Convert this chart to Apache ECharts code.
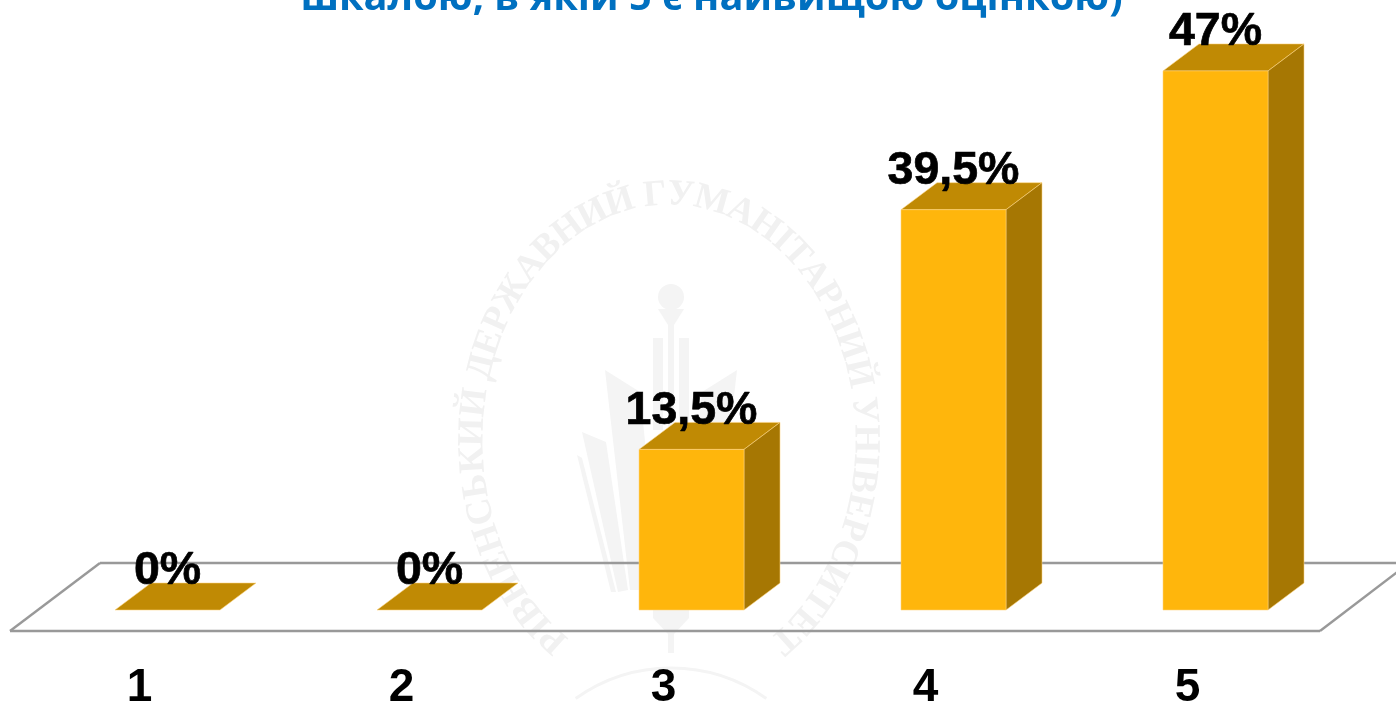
<!DOCTYPE html>
<html>
<head>
<meta charset="utf-8">
<style>html,body{margin:0;padding:0;background:#fff;overflow:hidden}#c{width:1396px;height:705px}</style>
<script src="https://cdn.jsdelivr.net/npm/echarts@6/dist/echarts.min.js"></script>
</head>
<body>
<div id="c"></div>
<script>
// Data
var categories = ['1', '2', '3', '4', '5'];
var barHeights = [0, 0, 14, 34.9, 47];           // drawn heights as seen on the picture
var barLabels = ['0%', '0%', '13,5%', '39,5%', '47%']; // printed labels
var titleText = 'шкалою, в якій 5 є найвищою оцінкою)';
var watermarkText = 'РІВНЕНСЬКИЙ ДЕРЖАВНИЙ ГУМАНІТАРНИЙ УНІВЕРСИТЕТ';

var FACE = '#FFB60C', TOP = '#C08A04', SIDE = '#A67703', EDGE = 'rgba(255,214,130,0.55)';
var WM = '#F1F1F1';
var FONT = '"Liberation Sans", Arial, sans-serif';

function watermark() {
  var els = [];
  var cx = 669, cy = 440, rx = 196, ry = 245;
  var ctx = document.createElement('canvas').getContext('2d');
  var fnt = 'bold 37px "Liberation Serif"';
  ctx.font = fnt;
  var start = 4.14, end = -1.0; // ellipse parameter: lower left, over the top, to lower right
  var pts = [], N = 2000, total = 0;
  for (var i = 0; i <= N; i++) {
    var t = start + (end - start) * i / N;
    var p = [cx + rx * Math.cos(t), cy - ry * Math.sin(t)];
    if (i) { total += Math.hypot(p[0] - pts[i - 1].x, p[1] - pts[i - 1].y); }
    pts.push({ x: p[0], y: p[1], s: total, t: t });
  }
  var widths = watermarkText.split('').map(function (c) { return ctx.measureText(c).width; });
  var sum = widths.reduce(function (a, b) { return a + b; }, 0);
  var k = total / sum, pos = 0, idx = 0;
  watermarkText.split('').forEach(function (c, j) {
    var mid = (pos + widths[j] / 2) * k;
    while (idx < N && pts[idx].s < mid) idx++;
    var a = pts[Math.max(idx - 3, 0)], b = pts[Math.min(idx + 3, N)];
    var rot = -Math.atan2(b.y - a.y, b.x - a.x);
    els.push({
      type: 'text', x: pts[idx].x, y: pts[idx].y, rotation: rot, z: -10, silent: true,
      style: { text: c, fill: WM, font: fnt, align: 'center', verticalAlign: 'middle' }
    });
    pos += widths[j];
  });
  function poly(points) {
    return { type: 'polygon', z: -10, silent: true, shape: { points: points }, style: { fill: '#F4F4F4' } };
  }
  // torch
  els.push({ type: 'circle', z: -10, silent: true, shape: { cx: 671, cy: 297, r: 13 }, style: { fill: '#F4F4F4' } });
  els.push(poly([[658, 309], [684, 309], [674, 325], [674, 370], [668, 370], [668, 325]]));
  // trident
  els.push(poly([[653, 338], [663, 338], [663, 430], [653, 430]]));
  els.push(poly([[679, 338], [689, 338], [689, 430], [679, 430]]));
  els.push(poly([[668, 365], [674, 365], [674, 430], [668, 430]]));
  // book pages
  els.push(poly([[605, 370], [640, 392], [660, 590], [630, 590]]));
  els.push(poly([[582, 432], [606, 442], [628, 590], [618, 592]]));
  els.push(poly([[577, 455], [582, 458], [616, 592], [611, 592]]));
  els.push(poly([[737, 370], [702, 392], [682, 590], [712, 590]]));
  // stem under the fold
  els.push(poly([[653, 600], [663, 600], [663, 608], [679, 608], [679, 600], [689, 600], [689, 618], [674, 634], [674, 653], [668, 653], [668, 634], [653, 618]]));
  // bottom arc
  els.push({
    type: 'arc', z: -10, silent: true,
    shape: { cx: 671, cy: 832, r: 164, startAngle: Math.PI * 1.5 - 0.62, endAngle: Math.PI * 1.5 + 0.62 },
    style: { stroke: '#F4F4F4', lineWidth: 3, fill: null }
  });
  return els;
}

function renderFloor(params, api) {
  var line = function (x1, y1, x2, y2) {
    return {
      type: 'line', shape: { x1: x1, y1: y1, x2: x2, y2: y2 },
      style: { stroke: '#999999', lineWidth: 2.4 }
    };
  };
  var g = params.coordSys;
  var x0 = g.x, x1 = g.x + g.width, yf = g.y + g.height + 21, back = yf - 68;
  return {
    type: 'group',
    children: [
      line(x0, yf, x1, yf),
      line(x0, yf, x0 + 90, back),
      line(x0 + 90, back, 1400, back),
      line(x1, yf, 1400, yf - 61)
    ]
  };
}

function renderBar(params, api) {
  var base = api.coord([api.value(0), 0]);
  var top = api.coord([api.value(0), api.value(1)]);
  var shift = 26.5, half = 52.5, dx = 36, dy = -27;
  var l = base[0] + shift - half, r = base[0] + shift + half, b = base[1], t = top[1];
  var poly = function (points, fill) {
    return { type: 'polygon', shape: { points: points }, style: { fill: fill, stroke: EDGE, lineWidth: 1 } };
  };
  var children = [
    poly([[l, t], [r, t], [r + dx, t + dy], [l + dx, t + dy]], TOP)
  ];
  if (b - t > 0.5) {
    children.push(poly([[r, t], [r + dx, t + dy], [r + dx, b + dy], [r, b]], SIDE));
    children.push(poly([[l, t], [r, t], [r, b], [l, b]], FACE));
  }
  children.push({
    type: 'text', z2: 20, x: base[0] + shift, y: t - 38.5,
    style: {
      text: barLabels[params.dataIndex], fill: '#000', stroke: '#000', lineWidth: 0.7,
      align: 'center', verticalAlign: 'middle', font: 'bold 46.5px ' + FONT
    }
  });
  return { type: 'group', children: children };
}

var chart = echarts.init(document.getElementById('c'), null, { renderer: 'canvas' });
chart.setOption({
  animation: false,
  backgroundColor: '#fff',
  title: {
    text: titleText, left: 706.5, top: -26, textAlign: 'center',
    textStyle: { color: '#0070C0', fontFamily: '"Open Sans"', fontWeight: 'bold', fontSize: 39.75 }
  },
  grid: { left: 10, width: 1310, top: 36.5, height: 573.5, outerBoundsMode: 'none' },
  xAxis: {
    type: 'category', data: categories,
    axisLine: { show: false }, axisTick: { show: false },
    axisLabel: { color: '#000', fontFamily: FONT, fontWeight: 'bold', fontSize: 46, margin: 55, padding: [0, 3, 0, 0] }
  },
  yAxis: { type: 'value', min: 0, max: 50, show: false, splitLine: { show: false } },
  graphic: { elements: watermark() },
  series: [
    { type: 'custom', silent: true, clip: false, z: 1, renderItem: renderFloor, data: [[0, 0]], encode: { x: 0, y: 1 } },
    {
      type: 'custom', silent: true, clip: false, z: 2, renderItem: renderBar,
      data: categories.map(function (c, i) { return [i, barHeights[i]]; }),
      encode: { x: 0, y: 1 }
    }
  ]
});
</script>
</body>
</html>
